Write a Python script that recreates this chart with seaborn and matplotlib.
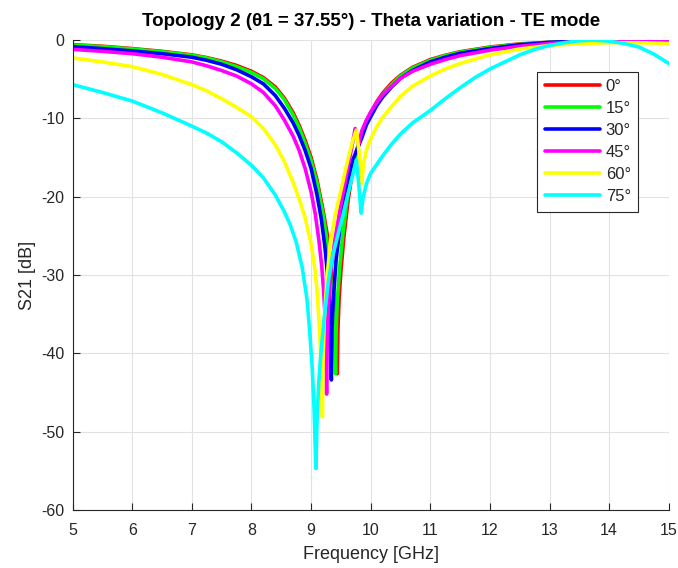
import numpy as np
import pandas as pd
import matplotlib
matplotlib.use("Agg")
import matplotlib.pyplot as plt
import seaborn as sns

# --------------------------------------------------
# DATA
# --------------------------------------------------

angles = ["0°", "15°", "30°", "45°", "60°", "75°"]
colors = ["#ff0000", "#00ff00", "#0000ff", "#ff00ff", "#ffff00", "#00ffff"]

freq_0 = [5, 5.5, 6, 6.5, 7, 7.25, 7.5, 7.75, 8, 8.2, 8.4, 8.55, 8.7, 8.8, 8.9, 9.0, 9.1, 9.2,
          9.27, 9.33, 9.38, 9.41, 9.43, 9.44, 9.45, 9.47, 9.5, 9.55, 9.62, 9.68, 9.76, 9.85,
          9.93, 10.0, 10.1, 10.2, 10.35, 10.5, 10.7, 11, 11.25, 11.5, 12, 12.5, 13, 13.5, 14,
          14.5, 15]
s21_0 = [-0.6, -0.8, -1.1, -1.45, -1.9, -2.25, -2.7, -3.25, -4.0, -4.8, -6.0, -7.4, -9.3, -10.9,
         -12.8, -15.0, -17.9, -21.7, -24.8, -28.5, -32.5, -36, -39.5, -42.6, -37, -33, -29.5,
         -25.2, -20.5, -17.5, -14.2, -12.0, -10.3, -9.3, -7.9, -6.8, -5.5, -4.5, -3.5, -2.5,
         -1.95, -1.5, -0.9, -0.5, -0.3, -0.15, -0.05, -0.05, -0.1]

freq_15 = [5, 5.5, 6, 6.5, 7, 7.25, 7.5, 7.75, 8, 8.2, 8.4, 8.55, 8.7, 8.8, 8.9, 9.0, 9.1, 9.2,
           9.26, 9.31, 9.35, 9.38, 9.4, 9.41, 9.42, 9.44, 9.48, 9.53, 9.6, 9.67, 9.76, 9.85,
           9.93, 10.0, 10.1, 10.2, 10.35, 10.5, 10.7, 11, 11.25, 11.5, 12, 12.5, 13, 13.5, 14,
           14.5, 15]
s21_15 = [-0.65, -0.85, -1.15, -1.5, -1.95, -2.3, -2.8, -3.4, -4.15, -4.95, -6.2, -7.6, -9.6,
          -11.2, -13.2, -15.4, -18.3, -22.2, -25.3, -28.8, -32.5, -36, -39.5, -42.6, -37, -33.2,
          -29, -25, -20.6, -17.4, -14.3, -12.2, -10.5, -9.5, -8.1, -7.0, -5.7, -4.6, -3.6, -2.6,
          -2.0, -1.55, -0.95, -0.55, -0.3, -0.15, -0.05, -0.05, -0.1]

freq_30 = [5, 5.5, 6, 6.5, 7, 7.25, 7.5, 7.75, 8, 8.2, 8.4, 8.55, 8.7, 8.8, 8.9, 9.0, 9.1, 9.17,
           9.23, 9.27, 9.3, 9.32, 9.34, 9.35, 9.37, 9.42, 9.5, 9.6, 9.7, 9.76, 9.85, 9.93, 10.0,
           10.1, 10.2, 10.35, 10.5, 10.7, 11, 11.25, 11.5, 12, 12.5, 13, 13.5, 14, 14.5, 15]
s21_30 = [-0.85, -1.1, -1.4, -1.75, -2.2, -2.6, -3.1, -3.8, -4.7, -5.6, -7.1, -8.7, -10.6, -12.2,
          -14.1, -16.4, -19.8, -22.8, -26.3, -29.5, -32.5, -36, -43.4, -37, -33.5, -28, -23,
          -18.5, -15.3, -14.2, -12.5, -10.8, -9.8, -8.4, -7.3, -6.0, -4.9, -3.9, -2.8, -2.2,
          -1.7, -1.1, -0.6, -0.3, -0.15, -0.05, 0, 0]

freq_45 = [5, 5.5, 6, 6.5, 7, 7.25, 7.5, 7.75, 8, 8.2, 8.4, 8.55, 8.7, 8.8, 8.9, 9.0, 9.07, 9.13,
           9.18, 9.21, 9.24, 9.26, 9.27, 9.29, 9.33, 9.4, 9.5, 9.6, 9.68, 9.74, 9.77, 9.8, 9.85,
           9.93, 10.0, 10.1, 10.2, 10.35, 10.5, 10.7, 11, 11.25, 11.5, 12, 12.5, 13, 13.5, 14,
           14.5, 15]
s21_45 = [-1.2, -1.45, -1.75, -2.2, -2.8, -3.3, -3.9, -4.6, -5.6, -6.7, -8.4, -10.2, -12.3, -14.1,
          -16.4, -19.4, -22.2, -25.5, -29, -32, -36, -45.2, -39, -34, -29.5, -25.5, -21, -17,
          -13.8, -11.3, -12.4, -13.3, -11.6, -10.2, -9.2, -8.0, -7.0, -5.9, -4.9, -4.0, -3.1,
          -2.5, -2.0, -1.3, -0.8, -0.45, -0.2, -0.1, -0.05, -0.05]

freq_60 = [5, 5.5, 6, 6.5, 7, 7.25, 7.5, 7.75, 8, 8.2, 8.4, 8.55, 8.7, 8.8, 8.9, 9.0, 9.06, 9.1,
           9.13, 9.16, 9.18, 9.19, 9.2, 9.22, 9.26, 9.32, 9.4, 9.5, 9.6, 9.7, 9.76, 9.8, 9.85,
           9.88, 9.93, 10.0, 10.1, 10.2, 10.35, 10.5, 10.7, 11, 11.25, 11.5, 12, 12.5, 13, 13.5,
           14, 14.5, 15]
s21_60 = [-2.3, -2.8, -3.4, -4.4, -5.7, -6.5, -7.5, -8.6, -9.8, -11.3, -13.4, -15.5, -18.2, -20.3,
          -22.7, -26.0, -29, -32, -35.5, -40, -44, -48.1, -41, -36, -31, -26, -22.5, -19.2,
          -15.8, -12.8, -11.5, -14, -18.3, -15.8, -14.0, -12.6, -11.1, -9.9, -8.5, -7.2, -5.9,
          -4.6, -3.7, -3.0, -1.9, -1.15, -0.7, -0.45, -0.35, -0.35, -0.45]

freq_75 = [5, 5.5, 6, 6.5, 7, 7.25, 7.5, 7.75, 8, 8.2, 8.4, 8.55, 8.65, 8.75, 8.85, 8.93, 8.98,
           9.02, 9.05, 9.08, 9.1, 9.13, 9.17, 9.22, 9.29, 9.36, 9.44, 9.53, 9.62, 9.7, 9.76, 9.8,
           9.84, 9.87, 9.93, 10.0, 10.1, 10.2, 10.35, 10.5, 10.7, 11, 11.25, 11.5, 11.75, 12,
           12.25, 12.5, 12.75, 13, 13.25, 13.5, 13.75, 14, 14.25, 14.5, 14.75, 15]
s21_75 = [-5.7, -6.7, -7.8, -9.3, -11.0, -11.9, -13.0, -14.4, -16.0, -17.6, -19.8, -21.9, -23.6,
          -25.8, -29.0, -33.0, -37.5, -42, -47, -54.7, -48.5, -43.5, -39.5, -35.5, -30.8, -27.6,
          -25.2, -22.5, -19.6, -17.2, -15.3, -18.5, -22.1, -20.2, -18.3, -17.0, -15.9, -14.8,
          -13.3, -12.0, -10.6, -9.0, -7.5, -6.1, -4.8, -3.7, -2.8, -1.9, -1.2, -0.7, -0.35,
          -0.1, 0, -0.15, -0.45, -0.9, -1.8, -3.0]

freqs = [freq_0, freq_15, freq_30, freq_45, freq_60, freq_75]
values = [s21_0, s21_15, s21_30, s21_45, s21_60, s21_75]

# --------------------------------------------------
# LONG TABLE FOR SEABORN
# --------------------------------------------------

frames = []
for angle, f, s in zip(angles, freqs, values):
    frames.append(pd.DataFrame({"freq": f, "s21": s, "angle": angle}))
df = pd.concat(frames, ignore_index=True)

# --------------------------------------------------
# PLOT
# --------------------------------------------------

sns.set_theme(style="white")
plt.rcParams["font.family"] = ["Liberation Sans", "DejaVu Sans"]
plt.rcParams["axes.unicode_minus"] = False

fig = plt.figure(figsize=(6.78, 5.68), dpi=100)
ax = fig.add_axes([0.1072, 0.1021, 0.8791, 0.8275])

sns.lineplot(
    data=df,
    x="freq",
    y="s21",
    hue="angle",
    hue_order=angles,
    palette=colors,
    sort=False,
    estimator=None,
    linewidth=2.6,
    ax=ax
)

ax.set_xlim(5, 15)
ax.set_ylim(-60, 0)
ax.set_xticks(range(5, 16))
ax.set_yticks(range(-60, 1, 10))
ax.grid(True, color="#e2e2e2", linewidth=0.8)
ax.set_axisbelow(True)

for side in ["top", "right"]:
    ax.spines[side].set_visible(False)
for side in ["left", "bottom"]:
    ax.spines[side].set_color("#262626")
    ax.spines[side].set_linewidth(0.8)

ax.tick_params(
    direction="in",
    length=5,
    width=0.8,
    colors="#262626",
    labelsize=11.5,
    left=True,
    bottom=True
)
ax.tick_params(axis="x", pad=9)
ax.tick_params(axis="y", pad=6)

ax.set_xlabel("Frequency [GHz]", fontsize=13, color="#262626", labelpad=6)
ax.set_ylabel("S21 [dB]", fontsize=13, color="#262626", labelpad=4)
ax.set_title(
    "Topology 2 (θ1 = 37.55°) - Theta variation - TE mode",
    fontsize=13.5,
    fontweight="bold",
    color="black",
    pad=10
)

leg = ax.legend(
    loc="upper right",
    bbox_to_anchor=(0.949, 0.9326),
    borderaxespad=0,
    fontsize=12,
    handlelength=3.3,
    labelspacing=0.42,
    borderpad=0.45,
    handletextpad=0.35,
    fancybox=False,
    framealpha=1,
    edgecolor="#262626"
)
leg.get_frame().set_linewidth(0.8)
for line in leg.get_lines():
    line.set_linewidth(2.6)

fig.savefig("out.png", dpi=100)
